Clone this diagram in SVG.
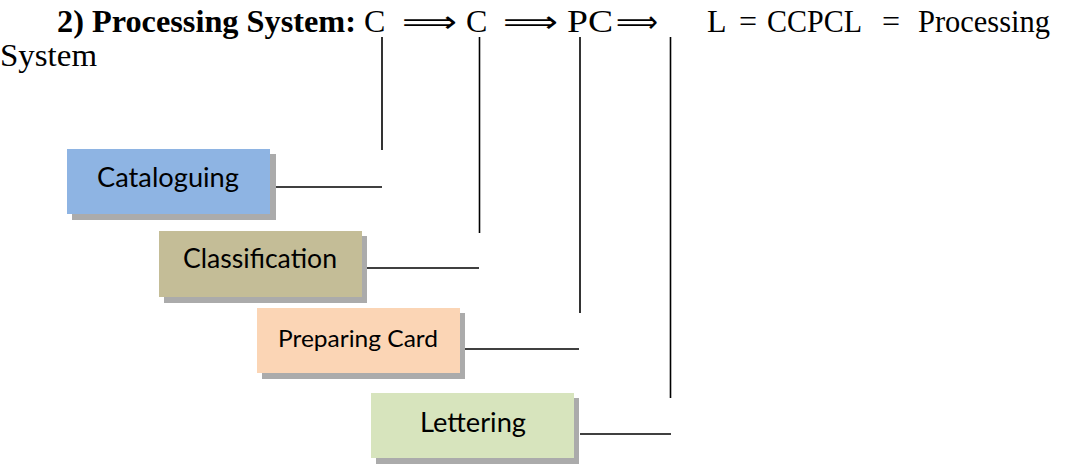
<svg xmlns="http://www.w3.org/2000/svg" width="1069" height="464" viewBox="0 0 1069 464">
  <style>
    .serif { font-family: "Liberation Serif", "Times New Roman", serif; font-size: 32px; fill: #000; }
    .bold { font-weight: bold; }
    .arrow { font-family: "DejaVu Sans", sans-serif; font-size: 30px; fill: #000; }
    .label { font-family: Lato, "Open Sans", sans-serif; fill: #000; }
    .shadow { fill: #ababab; }
    .wire { stroke: #000; stroke-width: 1.6; fill: none; }
  </style>

  <!-- heading line -->
  <g id="heading">
    <text class="serif bold" x="57" y="32" textLength="299" lengthAdjust="spacingAndGlyphs">2) Processing System:</text>
    <text class="serif" x="364" y="32">C</text>
    <text class="arrow" x="402" y="32" textLength="55" lengthAdjust="spacingAndGlyphs">⟹</text>
    <text class="serif" x="466" y="32">C</text>
    <text class="arrow" x="503" y="32" textLength="55" lengthAdjust="spacingAndGlyphs">⟹</text>
    <text class="serif" x="567" y="32" textLength="46" lengthAdjust="spacingAndGlyphs">PC</text>
    <text class="arrow" x="616" y="32" textLength="42" lengthAdjust="spacingAndGlyphs">⟹</text>
    <text class="serif" x="707" y="32">L</text>
    <text class="serif" x="739" y="32">=</text>
    <text class="serif" x="767" y="32" textLength="95" lengthAdjust="spacingAndGlyphs">CCPCL</text>
    <text class="serif" x="882" y="32">=</text>
    <text class="serif" x="918" y="32" textLength="132" lengthAdjust="spacingAndGlyphs">Processing</text>
    <text class="serif" x="0" y="66" textLength="97" lengthAdjust="spacingAndGlyphs">System</text>
  </g>

  <!-- connectors: verticals from the heading letters, horizontals from the boxes -->
  <g id="connectors">
    <line class="wire" x1="382" y1="37" x2="382" y2="150"/>
    <line class="wire" x1="271" y1="187" x2="382" y2="187"/>
    <line class="wire" x1="479.5" y1="37" x2="479.5" y2="233"/>
    <line class="wire" x1="366" y1="268" x2="479" y2="268"/>
    <line class="wire" x1="580" y1="37" x2="580" y2="313"/>
    <line class="wire" x1="465" y1="349" x2="579" y2="349"/>
    <line class="wire" x1="670.5" y1="37" x2="670.5" y2="398"/>
    <line class="wire" x1="580" y1="434" x2="671" y2="434"/>
  </g>

  <g id="cataloguing">
    <rect class="shadow" x="72" y="154" width="204" height="66"/>
    <rect x="67" y="149" width="203" height="65" fill="#8eb4e3"/>
    <text class="label" x="97" y="187" font-size="26" textLength="142" lengthAdjust="spacingAndGlyphs">Cataloguing</text>
  </g>

  <g id="classification">
    <rect class="shadow" x="164" y="236" width="203" height="67"/>
    <rect x="159" y="231" width="203" height="66" fill="#c4bd97"/>
    <text class="label" x="183" y="268" font-size="26" textLength="154" lengthAdjust="spacingAndGlyphs">Classification</text>
  </g>

  <g id="preparing-card">
    <rect class="shadow" x="262" y="313" width="203" height="66"/>
    <rect x="257" y="308" width="203" height="65" fill="#fbd5b5"/>
    <text class="label" x="278" y="347" font-size="23" textLength="160" lengthAdjust="spacingAndGlyphs">Preparing Card</text>
  </g>

  <g id="lettering">
    <rect class="shadow" x="376" y="398" width="203" height="66"/>
    <rect x="371" y="393" width="203" height="65" fill="#d7e4bd"/>
    <text class="label" x="420" y="432" font-size="27" textLength="106" lengthAdjust="spacingAndGlyphs">Lettering</text>
  </g>
</svg>
